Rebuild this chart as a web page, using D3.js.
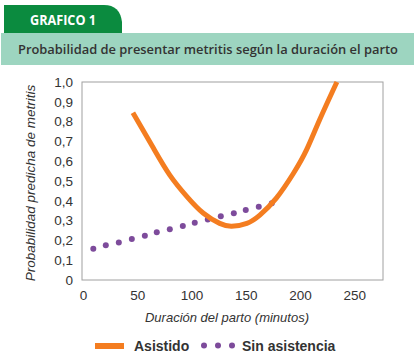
<!DOCTYPE html>
<html>
<head>
<meta charset="utf-8">
<script src="https://cdn.jsdelivr.net/npm/d3@7"></script>
<style>
  body { margin: 0; background: #fff; }
  svg { display: block; }
</style>
</head>
<body>
<svg id="chart" width="414" height="362"></svg>
<script>
// Asistido (fitted curve)
const asistidoMin = [46, 65, 80, 96, 111, 126, 137, 151, 163, 178, 194, 206, 218, 234];
const asistidoProb = [0.845, 0.665, 0.53, 0.42, 0.337, 0.286, 0.272, 0.286, 0.328, 0.412, 0.539, 0.657, 0.808, 1.0];

// Sin asistencia (dotted)
const sinMin = [9.5, 21, 33, 45, 57, 68, 80, 92, 103, 115, 127, 139, 150, 162, 174];
const sinProb = [0.158, 0.175, 0.19, 0.207, 0.224, 0.241, 0.256, 0.273, 0.289, 0.306, 0.322, 0.337, 0.354, 0.37, 0.387];

const xTicks = [0, 50, 100, 150, 200, 250];
const yTicks = [0, 0.1, 0.2, 0.3, 0.4, 0.5, 0.6, 0.7, 0.8, 0.9, 1.0];

const orange = "#f47d20";
const purple = "#7d4b9b";

const svg = d3.select("#chart");

// header
svg.append("path")
  .attr("d", "M4,5 H104 Q120,5 122,22 V33 H4 Z")
  .attr("fill", "#0b8b3f");
svg.append("text")
  .attr("x", 30).attr("y", 25)
  .attr("font-family", "Open Sans").attr("font-weight", "bold")
  .attr("font-size", 14).attr("fill", "#fff")
  .attr("textLength", 66).attr("lengthAdjust", "spacingAndGlyphs")
  .text("GRAFICO 1");
svg.append("rect")
  .attr("x", 1).attr("y", 33).attr("width", 413).attr("height", 32)
  .attr("fill", "#9dd5c0");
svg.append("text")
  .attr("x", 18).attr("y", 54)
  .attr("font-family", "Open Sans").attr("font-weight", 600)
  .attr("font-size", 13).attr("fill", "#333")
  .attr("textLength", 380).attr("lengthAdjust", "spacingAndGlyphs")
  .text("Probabilidad de presentar metritis según la duración el parto");

// plot area
const plotL = 82, plotR = 383, plotT = 82, plotB = 280;
const x = d3.scaleLinear().domain([0, 276.5]).range([83, plotR]);
const y = d3.scaleLinear().domain([0, 1]).range([plotB, plotT]);

svg.append("rect")
  .attr("x", plotL).attr("y", plotT)
  .attr("width", plotR - plotL).attr("height", plotB - plotT)
  .attr("fill", "none").attr("stroke", "#a0a0a0").attr("stroke-width", 1);

const yAxis = svg.append("g")
  .attr("transform", `translate(${plotL},0)`)
  .call(d3.axisLeft(y).tickValues(yTicks).tickSize(0).tickPadding(9)
    .tickFormat((d) => d === 0 ? "0" : d3.format(".1f")(d).replace(".", ",")));
yAxis.select(".domain").remove();
yAxis.selectAll("text")
  .attr("font-family", "Liberation Sans").attr("font-size", 13.5).attr("fill", "#333");

const xAxis = svg.append("g")
  .attr("transform", `translate(0,${plotB})`)
  .call(d3.axisBottom(x).tickValues(xTicks).tickSize(0).tickPadding(10));
xAxis.select(".domain").remove();
xAxis.selectAll("text")
  .attr("font-family", "Liberation Sans").attr("font-size", 13.5).attr("fill", "#333");

svg.append("text")
  .attr("transform", "translate(35,183) rotate(-90)")
  .attr("text-anchor", "middle")
  .attr("font-family", "Liberation Sans").attr("font-style", "italic")
  .attr("font-size", 13.5).attr("fill", "#333")
  .text("Probabilidad predicha de metritis");
svg.append("text")
  .attr("x", 227).attr("y", 322)
  .attr("text-anchor", "middle")
  .attr("font-family", "Liberation Sans").attr("font-style", "italic")
  .attr("font-size", 13).attr("fill", "#333")
  .text("Duración del parto (minutos)");

// series
const sinData = sinMin.map((m, i) => ({ m: m, p: sinProb[i] }));
svg.append("g").selectAll("circle")
  .data(sinData)
  .join("circle")
  .attr("cx", (d) => x(d.m))
  .attr("cy", (d) => y(d.p))
  .attr("r", 3)
  .attr("fill", purple);

const asData = asistidoMin.map((m, i) => ({ m: m, p: asistidoProb[i] }));
const line = d3.line()
  .x((d) => x(d.m))
  .y((d) => y(d.p))
  .curve(d3.curveNatural);
svg.append("path")
  .datum(asData)
  .attr("d", line)
  .attr("fill", "none")
  .attr("stroke", orange)
  .attr("stroke-width", 5);

// legend
svg.append("rect")
  .attr("x", 95).attr("y", 343).attr("width", 29).attr("height", 6)
  .attr("fill", orange);
svg.append("text")
  .attr("x", 134).attr("y", 351)
  .attr("font-family", "Liberation Sans").attr("font-weight", "bold")
  .attr("font-size", 14).attr("fill", "#333")
  .text("Asistido");
svg.append("g").selectAll("circle")
  .data([204, 218, 232])
  .join("circle")
  .attr("cx", (d) => d).attr("cy", 345.5).attr("r", 3)
  .attr("fill", purple);
svg.append("text")
  .attr("x", 242).attr("y", 351)
  .attr("font-family", "Liberation Sans").attr("font-weight", "bold")
  .attr("font-size", 14).attr("fill", "#333")
  .text("Sin asistencia");
</script>
</body>
</html>
